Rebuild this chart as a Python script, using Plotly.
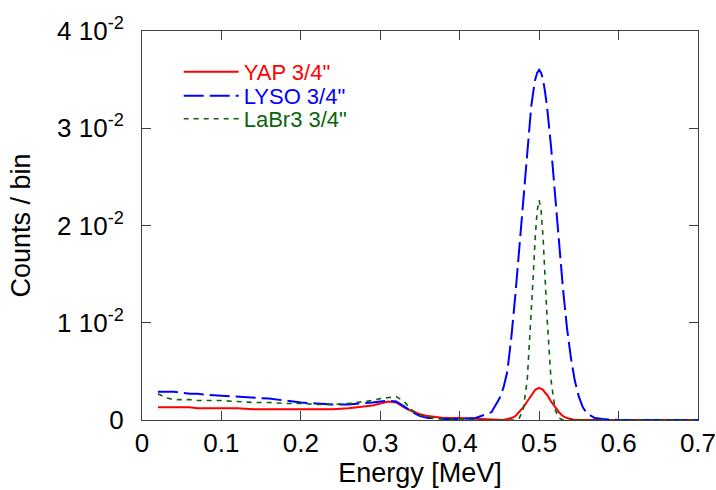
import plotly.graph_objects as go

energy = [0.02, 0.03, 0.04, 0.05, 0.06, 0.07, 0.08, 0.10, 0.12, 0.14, 0.16, 0.18, 0.20,
          0.22, 0.24, 0.26, 0.28, 0.29, 0.30, 0.31, 0.32, 0.33, 0.34, 0.35, 0.36, 0.37,
          0.38, 0.40, 0.42, 0.44, 0.45, 0.455, 0.46, 0.465, 0.47, 0.475, 0.48, 0.485,
          0.49, 0.4925, 0.495, 0.4975, 0.50, 0.5025, 0.505, 0.5075, 0.51, 0.515, 0.52,
          0.525, 0.53, 0.535, 0.54, 0.545, 0.55, 0.555, 0.56, 0.57, 0.58, 0.60, 0.65, 0.70]

yap = [0.0013, 0.0013, 0.0013, 0.0013, 0.0013, 0.0012, 0.0012, 0.0012, 0.0012, 0.0011,
       0.0011, 0.0011, 0.0011, 0.0011, 0.0011, 0.0012, 0.0014, 0.0015, 0.0017, 0.0019,
       0.0018, 0.0013, 0.0009, 0.0006, 0.0004, 0.0003, 0.0002, 0.0002, 0.0001, 0.0000,
       0.0000, 0.0000, 0.0001, 0.0002, 0.0004, 0.0008, 0.0013, 0.0019, 0.0026, 0.0028,
       0.0031, 0.0032, 0.0033, 0.0032, 0.0031, 0.0028, 0.0026, 0.0019, 0.0013, 0.0008,
       0.0004, 0.0002, 0.0001, 0.0000, 0.0000, 0.0000, 0.0000, 0.0000, 0.0000, 0.0000,
       0.0000, 0.0000]

lyso = [0.0029, 0.0029, 0.0029, 0.0028, 0.0027, 0.0027, 0.0026, 0.0025, 0.0024, 0.0023,
        0.0022, 0.0020, 0.0018, 0.0017, 0.0016, 0.0016, 0.0017, 0.0018, 0.0019, 0.0020,
        0.0019, 0.0014, 0.0008, 0.0004, 0.0002, 0.0002, 0.0001, 0.0001, 0.0002, 0.0008,
        0.0022, 0.0033, 0.0050, 0.0085, 0.0128, 0.0178, 0.0230, 0.0280, 0.0322, 0.0337,
        0.0350, 0.0357, 0.0360, 0.0357, 0.0350, 0.0337, 0.0322, 0.0281, 0.0232, 0.0183,
        0.0135, 0.0095, 0.0064, 0.0040, 0.0024, 0.0013, 0.0007, 0.0002, 0.0001, 0.0000,
        0.0000, 0.0000]

labr3 = [0.0027, 0.0023, 0.0021, 0.0021, 0.0021, 0.0020, 0.0020, 0.0020, 0.0019, 0.0018,
         0.0018, 0.0017, 0.0017, 0.0016, 0.0016, 0.0017, 0.0019, 0.0020, 0.0022, 0.0023,
         0.0024, 0.0019, 0.0010, 0.0005, 0.0003, 0.0002, 0.0001, 0.0001, 0.0000, 0.0000,
         0.0000, 0.0000, 0.0000, 0.0000, 0.0000, 0.0002, 0.0011, 0.0041, 0.0105, 0.0147,
         0.0187, 0.0215, 0.0226, 0.0215, 0.0187, 0.0147, 0.0105, 0.0041, 0.0011, 0.0002,
         0.0000, 0.0000, 0.0000, 0.0000, 0.0000, 0.0000, 0.0000, 0.0000, 0.0000, 0.0000,
         0.0000, 0.0000]

x_ticks = [0, 0.1, 0.2, 0.3, 0.4, 0.5, 0.6, 0.7]
y_ticks = [0, 0.01, 0.02, 0.03, 0.04]
y_ticktext = ["0", "1 10<sup>-2</sup>", "2 10<sup>-2</sup>", "3 10<sup>-2</sup>", "4 10<sup>-2</sup>"]

RED = "#ff0000"
BLUE = "#0000ff"
GREEN = "#0b640b"
FONT = "Liberation Sans, Arial, sans-serif"

fig = go.Figure()
fig.add_trace(go.Scatter(x=energy, y=yap, mode="lines", name='YAP 3/4"',
                         line=dict(color=RED, width=2), legend="legend"))
fig.add_trace(go.Scatter(x=energy, y=lyso, mode="lines", name='LYSO 3/4"',
                         line=dict(color=BLUE, width=2, dash="20px,6px"), legend="legend2"))
fig.add_trace(go.Scatter(x=energy, y=labr3, mode="lines", name='LaBr3 3/4"',
                         line=dict(color=GREEN, width=1.6, dash="5px,5px"), legend="legend3"))

axis_common = dict(
    showline=True, linecolor="#404040", linewidth=1, mirror="ticks",
    ticks="inside", ticklen=9, tickcolor="#404040", tickwidth=1,
    showgrid=False, zeroline=False, automargin=False,
    ticklabeloverflow="allow",
    tickfont=dict(family=FONT, size=26, color="black"),
)

leg_common = dict(xanchor="left", yanchor="middle", bgcolor="rgba(0,0,0,0)",
                  borderwidth=0, itemwidth=55, tracegroupgap=0)

fig.update_layout(
    width=716, height=490,
    margin=dict(l=142, r=18, t=31, b=70, autoexpand=False),
    paper_bgcolor="white", plot_bgcolor="white",
    font=dict(family=FONT, color="black"),
    xaxis=dict(range=[0, 0.70001], tickvals=x_ticks,
               title=dict(text="Energy [MeV]", font=dict(family=FONT, size=27), standoff=5),
               **axis_common),
    yaxis=dict(range=[0, 0.04], tickvals=y_ticks, ticktext=y_ticktext,
               ticklabelstandoff=12,
               title=dict(text="Counts / bin", font=dict(family=FONT, size=27), standoff=18),
               **axis_common),
    legend=dict(x=0.066, y=0.895, font=dict(family=FONT, size=22, color=RED), **leg_common),
    legend2=dict(x=0.066, y=0.833, font=dict(family=FONT, size=22, color=BLUE), **leg_common),
    legend3=dict(x=0.066, y=0.774, font=dict(family=FONT, size=22, color=GREEN), **leg_common),
    showlegend=True,
)

fig.write_html(
    "out.html",
    config={"displayModeBar": False},
    post_script="document.body.style.margin='0';document.body.style.overflow='hidden';",
)
